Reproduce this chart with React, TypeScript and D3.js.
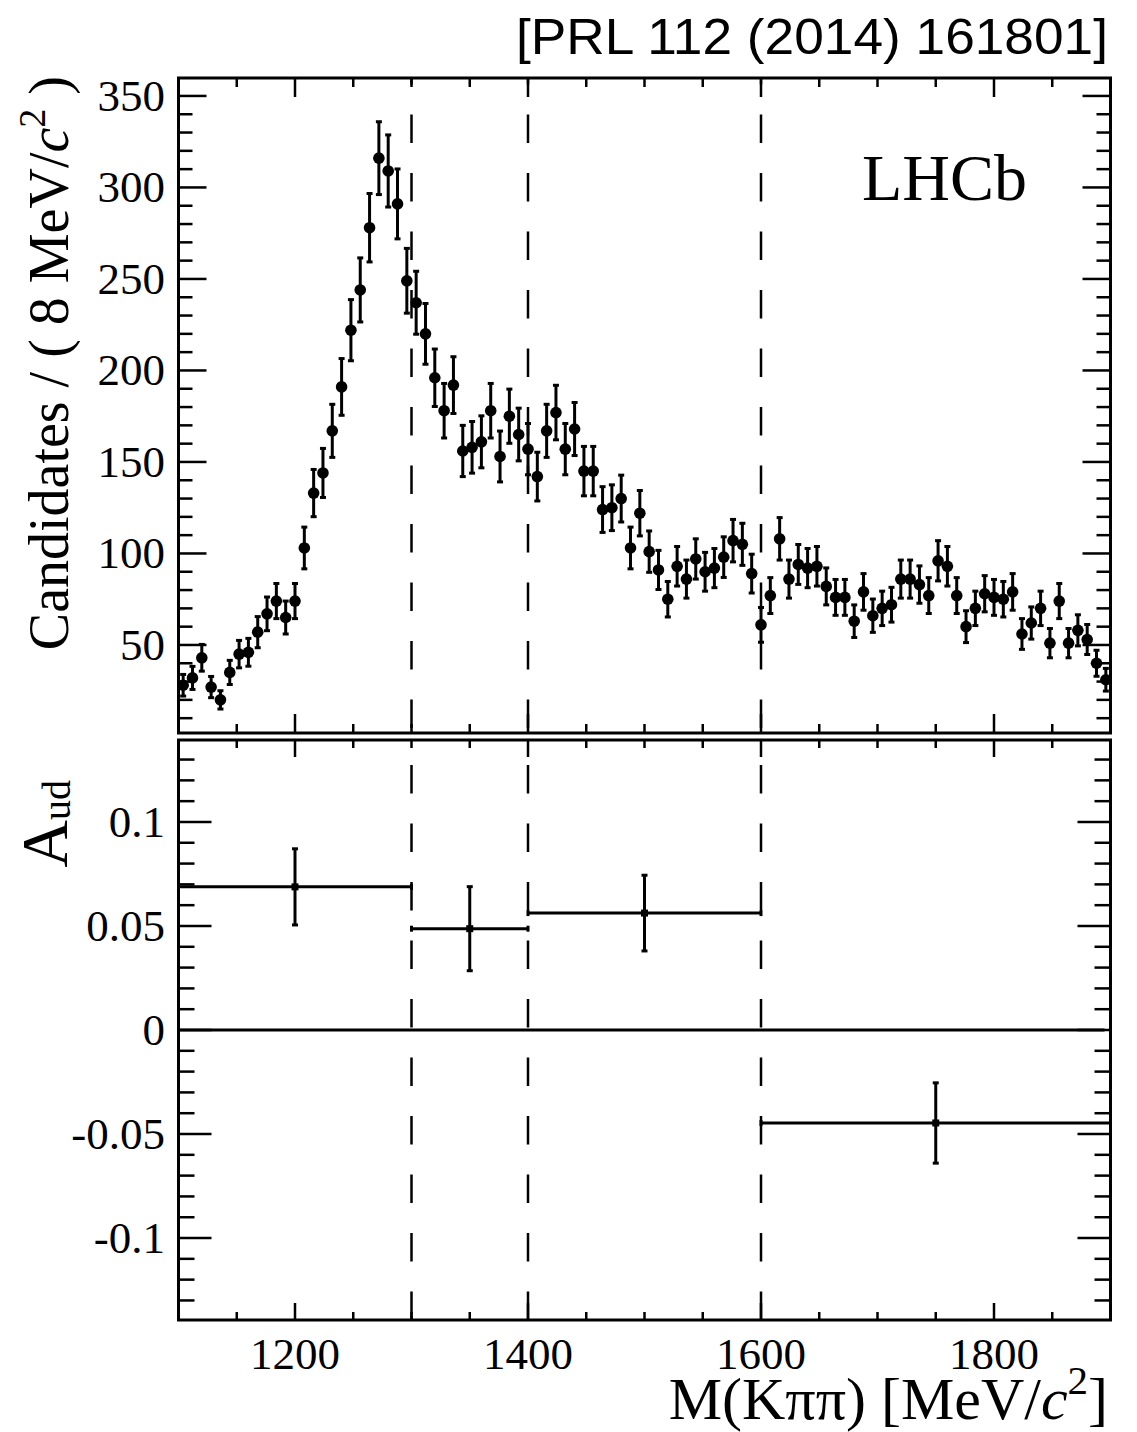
import React from 'react';
import * as d3 from 'd3';

// 8 MeV/c^2 bins, centres from 1104 to 1896
const massBins = d3.range(1104, 1900, 8);

const candidates = [
  28, 32, 43, 27, 20, 35, 45, 46, 57, 67,
  74, 65, 74, 103, 133, 144, 167, 191, 222, 244,
  278, 316, 309, 291, 249, 237, 220, 196, 178, 192,
  156, 158, 161, 178, 153, 175, 165, 157, 142, 167,
  177, 157, 168, 145, 145, 124, 125, 130, 103, 122,
  101, 91, 75, 93, 86, 97, 90, 92, 98, 107,
  105, 89, 61, 77, 108, 86, 94, 92, 93, 82,
  76, 76, 63, 79, 66, 70, 72, 86, 86, 83,
  77, 96, 93, 77, 60, 70, 78, 76, 75, 79,
  56, 62, 70, 51, 74, 51, 58, 53, 40, 31,
];

const candidateErrs = [
  5.9, 6.3, 7.3, 5.8, 5.0, 6.6, 7.5, 7.6, 8.5, 9.2,
  9.6, 9.0, 9.6, 11.4, 12.9, 13.4, 14.5, 15.5, 16.7, 17.5,
  18.7, 19.9, 19.7, 19.1, 17.7, 17.2, 16.6, 15.7, 14.9, 15.5,
  14.0, 14.1, 14.2, 14.9, 13.9, 14.8, 14.4, 14.0, 13.3, 14.5,
  14.9, 14.0, 14.5, 13.5, 13.5, 12.5, 12.5, 12.8, 11.4, 12.4,
  11.3, 10.7, 9.7, 10.8, 10.4, 11.0, 10.6, 10.7, 11.1, 11.6,
  11.5, 10.6, 9.5, 9.8, 11.6, 10.4, 10.9, 10.7, 10.8, 10.1,
  9.8, 9.8, 8.9, 10.0, 9.1, 9.4, 9.5, 10.4, 10.4, 10.2,
  9.8, 11.0, 10.8, 9.8, 8.7, 9.4, 9.9, 9.8, 9.7, 10.0,
  8.4, 8.8, 9.4, 8.0, 9.6, 8.0, 8.5, 8.2, 7.1, 6.2,
];

// asymmetry in the four mass regions
const asymLow = [1100, 1300, 1400, 1600];
const asymHigh = [1300, 1400, 1600, 1900];
const asymVals = [0.0688, 0.0487, 0.0562, -0.0447];
const asymErrs = [0.0183, 0.0202, 0.0182, 0.0193];

const regionCuts = [1300, 1400, 1600];

const xLabels = [1200, 1400, 1600, 1800];
const xMinorTicks = d3.range(1150, 1900, 50);
const topMajor = [50, 100, 150, 200, 250, 300, 350];
const topMinor = d3.range(10, 360, 10);
const botMajor = [-0.1, -0.05, 0, 0.05, 0.1];
const botLabels = ['-0.1', '-0.05', '0', '0.05', '0.1'];
const botMinor = d3.range(-13, 14).map((d) => d / 100);

const W = 1137;
const H = 1432;
const left = 178.5;
const right = 1110.5;
const topY0 = 78;
const topY1 = 733;
const botY0 = 740;
const botY1 = 1320;

const serif = '"Liberation Serif", "Times New Roman", serif';

const x = d3.scaleLinear().domain([1100, 1900]).range([left, right]);
const yTop = d3.scaleLinear().domain([1.9, 359.8]).range([topY1, topY0]);
const yBot = d3.scaleLinear().domain([-0.1394, 0.1394]).range([botY1, botY0]);

const axisTicks = (y0, y1, yScale, yMaj, yMin, yMajLen, yMinLen, xMajLen, xMinLen) => {
  const lines = [];
  yMin.forEach((v, i) => {
    const yy = yScale(v);
    if (yy <= y0 + 1 || yy >= y1 - 1) return;
    const major = yMaj.some((m) => Math.abs(m - v) < 1e-6);
    const len = major ? yMajLen : yMinLen;
    lines.push(<line key={`yl${i}`} x1={left} x2={left + len} y1={yy} y2={yy} />);
    lines.push(<line key={`yr${i}`} x1={right} x2={right - len} y1={yy} y2={yy} />);
  });
  xMinorTicks.forEach((v, i) => {
    const xx = x(v);
    const len = xLabels.includes(v) ? xMajLen : xMinLen;
    lines.push(<line key={`xb${i}`} x1={xx} x2={xx} y1={y1} y2={y1 - len} />);
    lines.push(<line key={`xt${i}`} x1={xx} x2={xx} y1={y0} y2={y0 + len} />);
  });
  return (
    <g stroke="#000" strokeWidth={2.5}>
      {lines}
    </g>
  );
};

const dashed = (y0, y1, offset) =>
  regionCuts.map((c) => (
    <line
      key={`d${c}-${y0}`}
      x1={x(c)}
      x2={x(c)}
      y1={y1}
      y2={y0}
      stroke="#000"
      strokeWidth={2.5}
      strokeDasharray="28.5 30"
      strokeDashoffset={offset}
    />
  ));

const App = () => {
  const cap = 3;
  return (
    <svg width={W} height={H} style={{ position: 'absolute', left: 0, top: 0, background: '#fff' }}>
      <rect x={0} y={0} width={W} height={H} fill="#fff" />

      {/* reference */}
      <text
        x={1108}
        y={54}
        textAnchor="end"
        fontFamily='"Liberation Sans", Arial, sans-serif'
        fontSize={50}
        textLength={592}
        lengthAdjust="spacingAndGlyphs"
      >
        [PRL 112 (2014) 161801]
      </text>

      {/* upper panel */}
      {dashed(topY0, topY1, 53.5)}
      {axisTicks(topY0, topY1, yTop, topMajor, topMinor, 28, 14, 19, 9)}
      <g>
        {massBins.map((m, i) => {
          const cx = x(m);
          const ylo = yTop(candidates[i] - candidateErrs[i]);
          const yhi = yTop(candidates[i] + candidateErrs[i]);
          return (
            <g key={`p${i}`} stroke="#000" strokeWidth={3}>
              <line x1={cx} x2={cx} y1={ylo} y2={yhi} />
              <line x1={cx - cap} x2={cx + cap} y1={ylo} y2={ylo} />
              <line x1={cx - cap} x2={cx + cap} y1={yhi} y2={yhi} />
              <circle cx={cx} cy={yTop(candidates[i])} r={5.8} fill="#000" stroke="none" />
            </g>
          );
        })}
      </g>
      <rect x={left} y={topY0} width={right - left} height={topY1 - topY0} fill="none" stroke="#000" strokeWidth={3} />
      {topMajor.map((v) => (
        <text key={`tl${v}`} x={165} y={yTop(v) + 15} textAnchor="end" fontFamily={serif} fontSize={45}>
          {v}
        </text>
      ))}
      <text x={862} y={200} fontFamily={serif} fontSize={66}>
        LHCb
      </text>
      <text transform="translate(68,76) rotate(-90)" textAnchor="end" fontFamily={serif} fontSize={56}>
        Candidates / ( 8 MeV/<tspan fontStyle="italic">c</tspan>
        <tspan dy={-23} fontSize={38}>2</tspan>
        <tspan dy={23}> )</tspan>
      </text>

      {/* lower panel */}
      {dashed(botY0, botY1, 0)}
      {axisTicks(botY0, botY1, yBot, botMajor, botMinor, 33, 16, 17, 8)}
      <line x1={left} x2={right - 6} y1={yBot(0)} y2={yBot(0)} stroke="#000" strokeWidth={3} />
      {asymVals.map((v, i) => {
        const x0 = x(asymLow[i]);
        const x1 = x(asymHigh[i]);
        const cx = x((asymLow[i] + asymHigh[i]) / 2);
        const cy = yBot(v);
        const ylo = yBot(v - asymErrs[i]);
        const yhi = yBot(v + asymErrs[i]);
        return (
          <g key={`a${i}`} stroke="#000" strokeWidth={3}>
            <line x1={x0} x2={x1} y1={cy} y2={cy} />
            <line x1={x0} x2={x0} y1={cy - 3} y2={cy + 3} />
            <line x1={x1} x2={x1} y1={cy - 3} y2={cy + 3} />
            <line x1={cx} x2={cx} y1={ylo} y2={yhi} />
            <line x1={cx - cap} x2={cx + cap} y1={ylo} y2={ylo} />
            <line x1={cx - cap} x2={cx + cap} y1={yhi} y2={yhi} />
            <rect x={cx - 3.5} y={cy - 3.5} width={7} height={7} fill="#000" stroke="none" />
          </g>
        );
      })}
      <rect x={left} y={botY0} width={right - left} height={botY1 - botY0} fill="none" stroke="#000" strokeWidth={3} />
      {botMajor.map((v, i) => (
        <text key={`bl${i}`} x={165} y={yBot(v) + 15} textAnchor="end" fontFamily={serif} fontSize={45}>
          {botLabels[i]}
        </text>
      ))}
      <text transform="translate(67,780) rotate(-90)" textAnchor="end" fontFamily={serif} fontSize={66}>
        A<tspan fontSize={40} dy={3}>ud</tspan>
      </text>

      {/* x axis */}
      {xLabels.map((v) => (
        <text key={`xl${v}`} x={x(v)} y={1369} textAnchor="middle" fontFamily={serif} fontSize={45}>
          {v}
        </text>
      ))}
      <text x={1108} y={1419} textAnchor="end" fontFamily={serif} fontSize={60}>
        M(Kππ) [MeV/<tspan fontStyle="italic">c</tspan>
        <tspan dy={-25} fontSize={41}>2</tspan>
        <tspan dy={25}>]</tspan>
      </text>
    </svg>
  );
};

export default App;
